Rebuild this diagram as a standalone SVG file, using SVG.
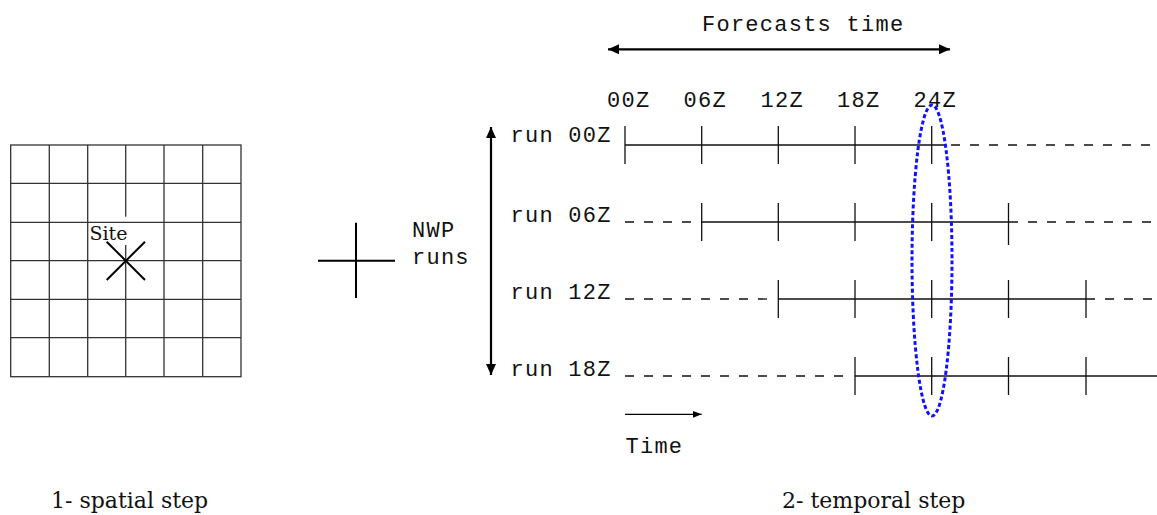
<svg xmlns="http://www.w3.org/2000/svg" width="1157" height="515" viewBox="0 0 1157 515">
  <style>
    .grid { stroke: #333; stroke-width: 1.3; fill: none; }
    .tl { stroke: #111; stroke-width: 1.3; fill: none; }
    .dash { stroke: #111; stroke-width: 1.3; fill: none; stroke-dasharray: 9 10; }
    .tick { stroke: #111; stroke-width: 1.3; }
    .mono { font-family: "Liberation Mono", "Courier New", monospace; font-size: 22px; letter-spacing: 1.25px; fill: #111; }
    .serif { font-family: "DejaVu Serif", "Liberation Serif", serif; fill: #111; }
    .arrow { stroke: #000; stroke-width: 2.2; fill: none; }
  </style>
  <defs>
    <marker id="ah" markerUnits="userSpaceOnUse" markerWidth="12" markerHeight="10" refX="11" refY="5" orient="auto-start-reverse">
      <path d="M0,0 L11,5 L0,10 Z" fill="#000"/>
    </marker>
    <marker id="ahs" markerUnits="userSpaceOnUse" markerWidth="10" markerHeight="8" refX="9" refY="4" orient="auto">
      <path d="M0,0.5 L9,4 L0,7.5 Z" fill="#000"/>
    </marker>
  </defs>
  <rect width="1157" height="515" fill="#fff"/>

  <g id="spatial-grid">
    <rect class="grid" x="10.7" y="145" width="230.3" height="231.7"/>
    <path class="grid" d="M49.3,145 V376.7 M87.7,145 V376.7 M125.7,145 V216.7 M125.7,245 V376.7 M164,145 V376.7 M202.7,145 V376.7 M10.7,183.3 H241 M10.7,222.3 H241 M10.7,260.7 H241 M10.7,299.3 H241 M10.7,337.7 H241"/>
  </g>
  <g id="site">
    <text class="serif" x="89.5" y="240" font-size="19">Site</text>
    <path d="M106.7,241.7 L145,280 M145,241.7 L106.7,280" stroke="#000" stroke-width="2" fill="none"/>
  </g>
  <g id="plus">
    <path d="M318,260.7 H395 M356,222.7 V298" stroke="#000" stroke-width="2" fill="none"/>
  </g>
  <g id="nwp-label">
    <text class="mono" x="412" y="237">NWP</text>
    <text class="mono" x="412" y="264">runs</text>
  </g>

  <g id="header">
    <text class="mono" x="702" y="31">Forecasts time</text>
    <text class="mono" x="607" y="107">00Z</text>
    <text class="mono" x="683.5" y="107">06Z</text>
    <text class="mono" x="760.5" y="107">12Z</text>
    <text class="mono" x="837" y="107">18Z</text>
    <text class="mono" x="913.5" y="107">24Z</text>
  </g>

  <g id="run00">
    <text class="mono" x="510.5" y="142">run 00Z</text>
    <path class="tl" d="M625,145 H945"/>
    <path class="dash" d="M951,145 H1157"/>
    <path class="tick" d="M625,126 V164 M701.7,126 V164 M778.3,126 V164 M855,126 V164 M931.7,126 V164"/>
  </g>
  <g id="run06">
    <text class="mono" x="510.5" y="222">run 06Z</text>
    <path class="dash" d="M625,222 H700"/>
    <path class="tl" d="M701.7,222 H1018"/>
    <path class="dash" d="M1028,222 H1157"/>
    <path class="tick" d="M701.7,203 V241 M778.3,203 V241 M855,203 V241 M931.7,203 V241 M1008.5,203 V245"/>
  </g>
  <g id="run12">
    <text class="mono" x="510.5" y="299">run 12Z</text>
    <path class="dash" d="M625,299 H776"/>
    <path class="tl" d="M778.3,299 H1095"/>
    <path class="dash" d="M1105,299 H1157"/>
    <path class="tick" d="M778.3,280 V318 M855,280 V318 M931.7,280 V318 M1008.5,280 V318 M1086,280 V318"/>
  </g>
  <g id="run18">
    <text class="mono" x="510.5" y="376">run 18Z</text>
    <path class="dash" d="M625,376 H852"/>
    <path class="tl" d="M855,376 H1157"/>
    <path class="tick" d="M855,357 V395 M931.7,357 V395 M1008.5,357 V395 M1086,357 V395"/>
  </g>

  <g id="selection">
    <ellipse cx="932" cy="260.5" rx="20" ry="155.5" fill="none" stroke="#1010ff" stroke-width="3" stroke-dasharray="4 2.5"/>
  </g>

  <g id="connectors">
    <path class="arrow" d="M608,49.3 H950" marker-start="url(#ah)" marker-end="url(#ah)"/>
    <path class="arrow" d="M491,127 V375" marker-start="url(#ah)" marker-end="url(#ah)"/>
    <path d="M625,414.3 H701.7" stroke="#000" stroke-width="1.3" fill="none" marker-end="url(#ahs)"/>
  </g>
  <g id="time-label">
    <text class="mono" x="625.5" y="453">Time</text>
  </g>

  <g id="captions">
    <text class="serif" x="51" y="508" font-size="22">1- spatial step</text>
    <text class="serif" x="782" y="508" font-size="22">2- temporal step</text>
  </g>
</svg>
